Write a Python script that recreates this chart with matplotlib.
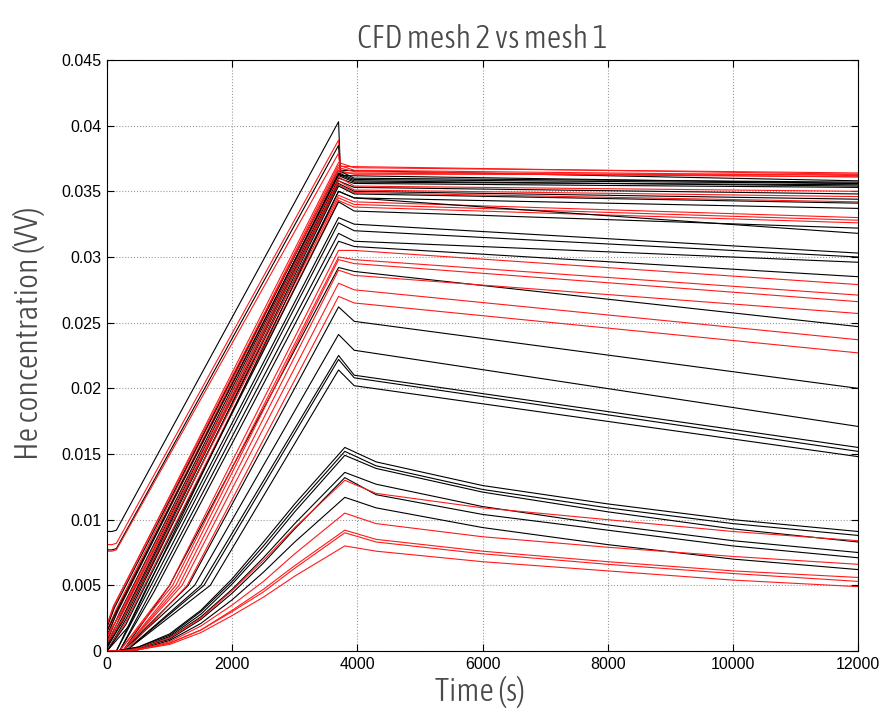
import matplotlib
matplotlib.use("Agg")
import matplotlib.pyplot as plt
from matplotlib import font_manager as fm

# --- data (He concentration, V/V) ---
T_PEAK = 3700      # end of injection ramp (s)
T_LOW_PEAK = 3800  # peak of the slow, far-away probes
T_END = 12000

# ramp probes: knots (0, c0) -> (tlift, c0) -> (tk, ck) -> (T_PEAK, peak) -> (tpost, post) -> (T_END, end)
ramp_color = ['k', 'r', 'k', 'r',
              'r', 'r', 'r', 'k', 'k', 'k', 'k', 'r', 'k', 'r', 'k',
              'r', 'k', 'k', 'r', 'r', 'r', 'k', 'k', 'k', 'r',
              'k', 'k', 'k', 'k', 'k', 'k', 'k', 'k', 'k', 'k',
              'r', 'r', 'r', 'r', 'r', 'r']
ramp_c0 = [0.0091, 0.0081, 0.0077, 0.0076,
           0.0020, 0.0015, 0.0010, 0.0018, 0.0012, 0.0008, 0.0005, 0.0016, 0.0004, 0.0010, 0.0002,
           0.0007, 0.0000, 0.0003, 0.0012, 0.0006, 0.0000, 0.0000, 0.0000, 0.0015, 0.0020,
           0, 0, 0, 0, 0, 0, 0, 0, 0, 0,
           0, 0, 0, 0, 0, 0]
ramp_tlift = [80, 80, 80, 80] + [0] * 21 + [150, 150, 200, 200, 250, 250, 250, 300, 300, 300,
                                             200, 200, 250, 250, 250, 300]
ramp_tk = [150, 150, 150, 150,
           120, 150, 160, 120, 180, 200, 220, 140, 250, 200, 250,
           220, 300, 260, 200, 250, 300, 300, 350, 150, 100,
           600, 650, 700, 750, 1000, 1300, 1400, 1500, 1550, 1650,
           1000, 1050, 1100, 1150, 1200, 1280]
ramp_ck = [0.0092, 0.0082, 0.0078, 0.0077,
           0.0035, 0.0032, 0.0030, 0.0033, 0.0031, 0.0029, 0.0027, 0.0030, 0.0026, 0.0028, 0.0024,
           0.0026, 0.0024, 0.0023, 0.0027, 0.0024, 0.0022, 0.0020, 0.0019, 0.0030, 0.0034,
           0.0045, 0.0045, 0.0045, 0.0045, 0.0050, 0.0050, 0.0050, 0.0050, 0.0050, 0.0050,
           0.0050, 0.0050, 0.0050, 0.0050, 0.0050, 0.0050]
ramp_peak = [0.0403, 0.0389, 0.0385, 0.0379,
             0.0372, 0.0370, 0.0368, 0.0366, 0.0364, 0.0362, 0.0360, 0.0361, 0.0358, 0.0358, 0.0356,
             0.0355, 0.0354, 0.0350, 0.0347, 0.0345, 0.0343, 0.0342, 0.0350, 0.0363, 0.0366,
             0.0330, 0.0326, 0.0318, 0.0312, 0.0292, 0.0262, 0.0241, 0.0225, 0.0222, 0.0214,
             0.0305, 0.0300, 0.0298, 0.0290, 0.0280, 0.0270]
ramp_tpost = [3730, 3730, 3730, 3730] + [3950] * 37
ramp_post = [0.0366, 0.0369, 0.0362, 0.0364,
             0.0368, 0.0366, 0.0365, 0.0360, 0.0359, 0.0357, 0.0356, 0.0354, 0.0353, 0.0351, 0.0350,
             0.0349, 0.0348, 0.0345, 0.0342, 0.0340, 0.0338, 0.0335, 0.0345, 0.0358, 0.0363,
             0.0325, 0.0320, 0.0312, 0.0308, 0.0289, 0.0251, 0.0229, 0.0210, 0.0208, 0.0202,
             0.0305, 0.0298, 0.0295, 0.0286, 0.0275, 0.0265]
ramp_end = [0.0358, 0.0363, 0.0356, 0.0361,
            0.0364, 0.0362, 0.0361, 0.0357, 0.0356, 0.0355, 0.0353, 0.0350, 0.0348, 0.0346, 0.0344,
            0.0342, 0.0341, 0.0337, 0.0330, 0.0328, 0.0326, 0.0322, 0.0318, 0.0354, 0.0363,
            0.0303, 0.0300, 0.0296, 0.0285, 0.0247, 0.0200, 0.0171, 0.0155, 0.0152, 0.0148,
            0.0279, 0.0271, 0.0266, 0.0257, 0.0237, 0.0227]

# slow probes (curved rise, slow decay)
low_color = ['k', 'k', 'k', 'k', 'k', 'k', 'r', 'r', 'r', 'r', 'r']
low_t0 = [150, 150, 200, 200, 250, 250, 200, 250, 300, 300, 350]
low_500 = [0.0003, 0.0003, 0.0002, 0.0002, 0.0002, 0.0001, 0.0002, 0.0001, 0.0001, 0.0001, 0.0001]
low_1000 = [0.0013, 0.0012, 0.0011, 0.0010, 0.0009, 0.0008, 0.0010, 0.0007, 0.0006, 0.0006, 0.0005]
low_1500 = [0.0031, 0.0030, 0.0028, 0.0026, 0.0024, 0.0021, 0.0025, 0.0019, 0.0016, 0.0016, 0.0014]
low_2000 = [0.0055, 0.0053, 0.0051, 0.0047, 0.0044, 0.0039, 0.0046, 0.0035, 0.0031, 0.0030, 0.0027]
low_2500 = [0.0083, 0.0080, 0.0077, 0.0071, 0.0067, 0.0060, 0.0069, 0.0053, 0.0047, 0.0045, 0.0041]
low_3000 = [0.0112, 0.0109, 0.0106, 0.0097, 0.0093, 0.0083, 0.0094, 0.0074, 0.0065, 0.0063, 0.0057]
low_peak = [0.0155, 0.0152, 0.0149, 0.0136, 0.0132, 0.0117, 0.0130, 0.0105, 0.0092, 0.0090, 0.0080]
low_4300 = [0.0144, 0.0141, 0.0139, 0.0127, 0.0119, 0.0109, 0.0120, 0.0097, 0.0085, 0.0083, 0.0076]
low_6000 = [0.0126, 0.0123, 0.0121, 0.0110, 0.0104, 0.0094, 0.0109, 0.0087, 0.0076, 0.0074, 0.0068]
low_8000 = [0.0112, 0.0109, 0.0106, 0.0096, 0.0092, 0.0081, 0.0100, 0.0079, 0.0068, 0.0066, 0.0061]
low_10000 = [0.0100, 0.0097, 0.0093, 0.0084, 0.0080, 0.0070, 0.0091, 0.0072, 0.0061, 0.0059, 0.0054]
low_end = [0.0091, 0.0088, 0.0083, 0.0075, 0.0071, 0.0062, 0.0084, 0.0066, 0.0056, 0.0053, 0.0049]

x_ticks = [0, 2000, 4000, 6000, 8000, 10000, 12000]
y_ticks = [0, 0.005, 0.01, 0.015, 0.02, 0.025, 0.03, 0.035, 0.04, 0.045]

COLORS = {'k': '#000000', 'r': '#ff1a1a'}


def narrow_font():
    # look for a condensed face for the title / labels
    best, best_score = None, None
    for f in fm.fontManager.ttflist:
        if f.style != 'normal':
            continue
        s = str(f.stretch).lower()
        n = f.name.lower()
        if not ('condensed' in s or 'narrow' in n or 'condensed' in n):
            continue
        w = f.weight if isinstance(f.weight, int) else fm.weight_dict.get(f.weight, 400)
        score = abs(w - 300)
        if best_score is None or score < best_score:
            best, best_score = f, score
    if best is None:
        return None
    return best.fname


def main():
    fig = plt.figure(figsize=(8.82, 7.16), dpi=100)
    ax = fig.add_axes([107 / 882, 1 - 651 / 716, 751 / 882, 591 / 716])

    for i in range(len(ramp_color)):
        ts = [0, ramp_tlift[i], ramp_tk[i], T_PEAK, ramp_tpost[i], T_END]
        cs = [ramp_c0[i], ramp_c0[i], ramp_ck[i], ramp_peak[i], ramp_post[i], ramp_end[i]]
        ax.plot(ts, cs, color=COLORS[ramp_color[i]], lw=0.8)

    for i in range(len(low_color)):
        ts = [0, low_t0[i], 500, 1000, 1500, 2000, 2500, 3000, T_LOW_PEAK,
              4300, 6000, 8000, 10000, T_END]
        cs = [0, 0, low_500[i], low_1000[i], low_1500[i], low_2000[i], low_2500[i],
              low_3000[i], low_peak[i], low_4300[i], low_6000[i], low_8000[i],
              low_10000[i], low_end[i]]
        ax.plot(ts, cs, color=COLORS[low_color[i]], lw=0.8)

    ax.set_xlim(0, 12000)
    ax.set_ylim(0, 0.045)
    ax.set_xticks(x_ticks)
    ax.set_yticks(y_ticks)
    ax.set_xticklabels([f"{v:g}" for v in x_ticks])
    ax.set_yticklabels([f"{v:g}" for v in y_ticks])
    ax.tick_params(direction='in', top=True, right=True, length=5, width=0.8,
                   labelsize=11.5, pad=4)
    for lab in ax.get_xticklabels() + ax.get_yticklabels():
        lab.set_family(['Liberation Sans', 'DejaVu Sans'])
    ax.grid(True, color='#9a9a9a', linestyle=':', linewidth=0.8)
    for sp in ax.spines.values():
        sp.set_linewidth(0.8)

    fname = narrow_font()
    if fname:
        prop = fm.FontProperties(fname=fname, size=23)
    else:
        prop = fm.FontProperties(family='DejaVu Sans', size=16)

    ax.set_title("CFD mesh 2 vs mesh 1", fontproperties=prop, color='#4a4a4a', pad=9)
    ax.set_xlabel("Time (s)", fontproperties=prop, color='#4a4a4a')
    ax.set_ylabel("He concentration (VV)", fontproperties=prop, color='#4a4a4a')
    ax.xaxis.set_label_coords(0.497, -0.042)
    ax.yaxis.set_label_coords(-0.082, 0.537)

    fig.savefig("out.png", dpi=100)


if __name__ == "__main__":
    main()
